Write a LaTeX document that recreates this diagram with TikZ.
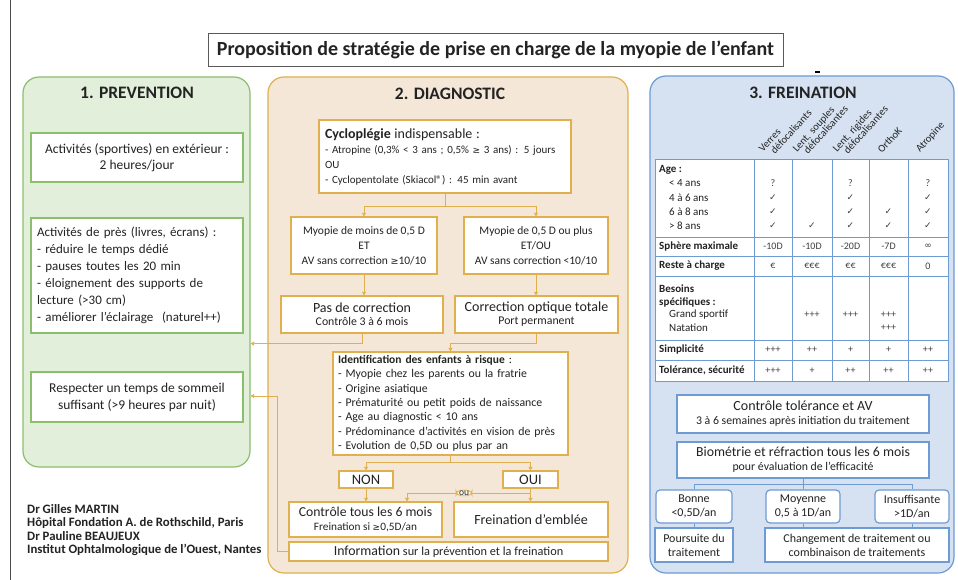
\documentclass[tikz,border=0pt]{standalone}
\usepackage{fontspec}
\setmainfont{Carlito}
\newfontfamily\djv{DejaVu Sans}
\usetikzlibrary{arrows.meta}
\newcommand\fs[2]{\fontsize{#1}{#2}\selectfont}
\newcommand\ck{{\djv\fs{9}{10}✓}}
\newcommand\infsym{{\djv\fs{9}{10}∞}}
\definecolor{gfill}{RGB}{226,239,218}
\definecolor{gbord}{RGB}{141,190,110}
\definecolor{tfill}{RGB}{244,231,215}
\definecolor{tbord}{RGB}{224,176,78}
\definecolor{bfill}{RGB}{214,226,242}
\definecolor{bbord}{RGB}{110,155,210}
\definecolor{txt}{RGB}{35,35,35}
\tikzset{
  panel/.style={rounded corners=16, line width=1.2pt, inner sep=0pt},
  ptitle/.style={font=\bfseries\fs{17.5}{20}, inner sep=0pt},
  gbox/.style={draw=gbord, line width=1.4pt, fill=white, inner sep=0pt, align=center},
  tbox/.style={draw=tbord, line width=1.2pt, fill=white, inner sep=0pt, align=center},
  bbox/.style={draw=bbord, line width=1.2pt, fill=white, inner sep=0pt, align=center},
  conn/.style={draw=tbord, line width=0.8pt},
  arr/.style={conn, -{Triangle[length=3.5pt,width=4pt]}},
  bconn/.style={draw=bbord, line width=0.9pt},
  tgrid/.style={draw=bbord, line width=1pt},
  lab/.style={anchor=west, inner sep=0pt, font=\fs{11}{12}},
  val/.style={inner sep=0pt, font=\fs{10}{11}, text=black!75},
  hdr/.style={rotate=48, anchor=base west, inner sep=0pt, font=\fs{10.5}{12}},
}
\begin{document}
\begin{tikzpicture}[x=1pt,y=-1pt, every node/.style={text=txt}]
\useasboundingbox (0,0) rectangle (958,580);
\fill[white] (0,0) rectangle (958,580);
\draw[black!70, line width=1pt] (10,0) -- (10,580);

% title
\node[draw=black!65, line width=0.9pt, fill=white, minimum width=575, minimum height=33, inner sep=0pt, font=\bfseries\fs{20}{22}] (title) at (495.5,49.5) {Proposition de stratégie de prise en charge de la myopie de l’enfant};
\draw[black, line width=2pt] (815,72) -- (820,72);

% panels
\node[panel, draw=gbord, fill=gfill, minimum width=227, minimum height=390] (pprev) at (136.5,272) {};
\node[ptitle] (tprev) at (137,93) {1. PREVENTION};
\node[panel, draw=tbord, fill=tfill, minimum width=360, minimum height=496] (pdiag) at (448,325) {};
\node[ptitle] (tdiag) at (450,94) {2. DIAGNOSTIC};
\node[panel, draw=bbord, fill=bfill, minimum width=304, minimum height=497] (pfrein) at (802,324.5) {};
\node[ptitle] (tfrein) at (803,93) {3. FREINATION};

% prevention boxes
\node[gbox, minimum width=212, minimum height=49, font=\fs{13.5}{15.5}] (gA) at (137,157.5) {Activités (sportives) en extérieur :\\2 heures/jour};
\node[gbox, minimum width=212, minimum height=115, text width=200, align=left, inner xsep=6pt, font=\fs{13}{17}] (gB) at (137,275.5) {Activités de près (livres, écrans) :\\- réduire le temps dédié\\- pauses toutes les 20 min\\- éloignement des supports de\\lecture (>30 cm)\\- améliorer l’éclairage\ \ (naturel++)};
\node[gbox, minimum width=212, minimum height=50, font=\fs{13.5}{17}] (gC) at (137,397) {Respecter un temps de sommeil\\suffisant (>9 heures par nuit)};

% diagnostic boxes
\node[tbox, minimum width=252, minimum height=73, text width=240, align=left, inner xsep=6pt, font=\fs{11}{15}] (cyc) at (445,156.5) {{\fs{14}{15}\textbf{Cycloplégie} indispensable :}\\- Atropine (0,3\% < 3 ans ; 0,5\% {\djv\fs{9}{10}≥} 3 ans) : 5 jours\\OU\\- Cyclopentolate (Skiacol®) : 45 min avant};
\node[tbox, minimum width=146, minimum height=57, font=\fs{11.5}{15}] (myL) at (364,245.5) {Myopie de moins de 0,5 D\\ET\\AV sans correction {\djv\fs{9.5}{10}≥}10/10};
\node[tbox, minimum width=144, minimum height=57, font=\fs{11.5}{15}] (myR) at (536,245.5) {Myopie de 0,5 D ou plus\\ET/OU\\AV sans correction <10/10};
\node[tbox, minimum width=162, minimum height=37, font=\fs{11.8}{13}] (pas) at (362,314.5) {{\fs{14}{15}Pas de correction}\\Contrôle 3 à 6 mois};
\node[tbox, minimum width=163, minimum height=37, font=\fs{11.8}{13}] (corr) at (536.5,314.5) {{\fs{14}{15}Correction optique totale}\\Port permanent};
\node[tbox, minimum width=235, minimum height=103, text width=225, align=left, inner xsep=5pt, font=\fs{11.8}{14.4}] (ident) at (450.5,403.5) {{\fs{11.5}{14.4}\textbf{Identification des enfants à risque}} :\\- Myopie chez les parents ou la fratrie\\- Origine asiatique\\- Prématurité ou petit poids de naissance\\- Age au diagnostic < 10 ans\\- Prédominance d’activités en vision de près\\- Evolution de 0,5D ou plus par an};
\node[tbox, minimum width=54, minimum height=17, font=\fs{14.5}{15}] (non) at (366,479.5) {NON};
\node[tbox, minimum width=55, minimum height=17, font=\fs{14.5}{15}] (oui) at (530.5,479.5) {OUI};
\node[tbox, minimum width=153, minimum height=35, font=\fs{11.3}{14}] (ctrl) at (365.5,519.5) {{\fs{13.7}{15}Contrôle tous les 6 mois}\\Freination si {\djv\fs{9}{10}≥}0,5D/an};
\node[tbox, minimum width=154, minimum height=35, font=\fs{14}{15}] (frein) at (531,519.5) {Freination d’emblée};
\node[tbox, minimum width=319, minimum height=19, font=\fs{12.3}{13}] (info) at (448.5,551.5) {{\fs{13.8}{15}Information} sur la prévention et la freination};

% diagnostic connectors
\draw[arr] (cyc.south) -- ++(0,13) -| (myL.north);
\draw[arr] (cyc.south) -- ++(0,13) -| (myR.north);
\draw[arr] (myL.south) -- (myL.south |- pas.north);
\draw[arr] (myR.south) -- (myR.south |- corr.north);
\draw[arr] (pas.south) -- ++(0,10) coordinate (j2) -- (j2 -| pprev.east);
\draw[arr] (corr.south) -- ++(0,10) -| (ident.north);
\draw[arr] (ident.south) -- ++(0,7) -| (non.north);
\draw[arr] (ident.south) -- ++(0,7) -| (oui.north);
\draw[arr] (non.south) -- (non.south |- ctrl.north);
\draw[arr] (oui.south) -- (oui.south |- frein.north);
\draw[arr] (oui.south) -- ++(0,5) -| ([xshift=41.5pt]ctrl.north);
\node[draw=tbord, line width=0.8pt, fill=white, rounded corners=5pt, inner xsep=3pt, inner ysep=0.5pt, font=\fs{9.5}{10}] (ou) at (464,493) {ou};
\coordinate (py) at (0,396);
\draw[arr] (info.west) -- ++(-11,0) |- (pprev.east |- py);

% freination table
\fill[white] (655,160) rectangle (948,381);
\foreach \x in {754,792,832,869,908} \draw[tgrid] (\x,160) -- (\x,381);
\foreach \y in {237,256,276,340,360} \draw[tgrid] (655,\y) -- (948,\y);
\draw[tgrid] (655,160) rectangle (948,381);

\foreach \x/\y/\t [count=\i] in {763/153/Verres, 775/155/défocalisants, 797/153/Lent. souples, 808/155/défocalisantes, 837/153/Lent. rigides, 848/155/défocalisantes, 882/154/OrthoK, 920/153/Atropine}
  \node[hdr] (h\i) at (\x,\y) {\t};

\node[lab] (lAge) at (659,170) {\textbf{Age :}};
\node[lab] (lA1) at (669,183) {< 4 ans};
\node[lab] (lA2) at (669,198) {4 à 6 ans};
\node[lab] (lA3) at (669,212) {6 à 8 ans};
\node[lab] (lA4) at (669,226) {> 8 ans};
\node[lab] (lSph) at (659,246.5) {\textbf{Sphère maximale}};
\node[lab] (lRes) at (659,266) {\textbf{Reste à charge}};
\node[lab] (lBes1) at (659,289) {\textbf{Besoins}};
\node[lab] (lBes2) at (659,302) {\textbf{spécifiques :}};
\node[lab] (lGS) at (669,315) {Grand sportif};
\node[lab] (lNat) at (669,328) {Natation};
\node[lab] (lSim) at (659,350) {\textbf{Simplicité}};
\node[lab] (lTol) at (659,370.5) {\textbf{Tolérance, sécurité}};

\foreach \y/\a/\b/\c/\d/\e [count=\r] in {183/?/{}/?/{}/?, 198/\ck/{}/\ck/{}/\ck, 212/\ck/{}/\ck/\ck/\ck, 226/\ck/\ck/\ck/\ck/\ck, 246.5/-10D/-10D/-20D/-7D/\infsym, 266/€/€€€/€€/€€€/0, 315/{}/+++/+++/+++/{}, 328/{}/{}/{}/+++/{}, 350/+++/++/+/+/++, 370.5/+++/+/++/++/++}{
  \node[val] (va\r) at (773,\y) {\a};
  \node[val] (vb\r) at (812,\y) {\b};
  \node[val] (vc\r) at (850.5,\y) {\c};
  \node[val] (vd\r) at (888.5,\y) {\d};
  \node[val] (ve\r) at (928,\y) {\e};
}

% freination boxes
\node[bbox, minimum width=252, minimum height=38, font=\fs{11.8}{14}] (ctol) at (803,414) {{\fs{14}{15}Contrôle tolérance et AV}\\3 à 6 semaines après initiation du traitement};
\node[bbox, minimum width=252, minimum height=36, font=\fs{11.8}{14}] (biom) at (803,460) {{\fs{13.8}{15}Biométrie et réfraction tous les 6 mois}\\pour évaluation de l’efficacité};
\node[bbox, rounded corners=4pt, minimum width=76, minimum height=33, font=\fs{12}{14}] (bon) at (694,506.5) {Bonne\\<0,5D/an};
\node[bbox, rounded corners=4pt, minimum width=74, minimum height=33, font=\fs{12}{14}] (moy) at (803,506.5) {Moyenne\\0,5 à 1D/an};
\node[bbox, rounded corners=4pt, minimum width=74, minimum height=33, font=\fs{12}{14}] (ins) at (912,506.5) {Insuffisante\\>1D/an};
\node[bbox, minimum width=78, minimum height=34, font=\fs{12}{14}] (pou) at (694,545) {Poursuite du\\traitement};
\node[bbox, minimum width=184, minimum height=34, font=\fs{12}{14}] (cha) at (857,545) {Changement de traitement ou\\combinaison de traitements};
\draw[bconn] (biom.south) -- ++(0,6) -| (bon.north);
\draw[bconn] (biom.south) -- ++(0,6) -| (ins.north);
\draw[bconn] (biom.south) -- (moy.north);
\draw[bconn] (bon.south) -- (pou.north);
\draw[bconn] (moy.south) -- (moy.south |- cha.north);
\draw[bconn] (ins.south) -- (ins.south |- cha.north);

% authors
\node[anchor=west, align=left, font=\bfseries\fs{12.8}{13.4}, inner sep=0pt] (auth) at (27,530) {Dr Gilles MARTIN\\Hôpital Fondation A. de Rothschild, Paris\\Dr Pauline BEAUJEUX\\Institut Ophtalmologique de l’Ouest, Nantes};
\end{tikzpicture}
\end{document}
